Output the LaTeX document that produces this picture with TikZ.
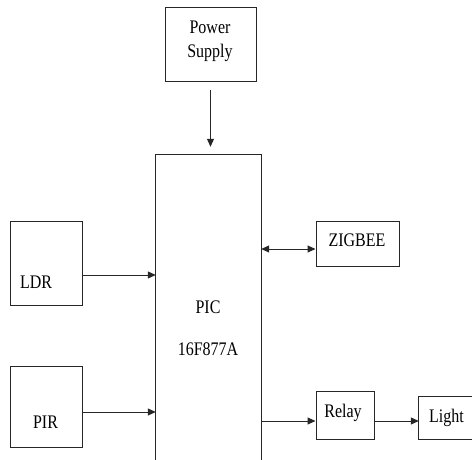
\documentclass[tikz,border=0pt]{standalone}
\usepackage{fontspec}
\setmainfont{Liberation Serif}
\usepackage{graphicx}
\usetikzlibrary{arrows.meta,calc}
\newcommand\vs[1]{\scalebox{1}[1.2]{#1}}
\begin{document}
\begin{tikzpicture}[x=1pt,y=-1pt,
  blk/.style={draw=black!85, line width=1pt, inner sep=0pt},
  open/.style={inner sep=0pt},
  side/.style={draw=black!85, line width=1pt},
  txt/.style={inner sep=0pt, anchor=base, font=\fontsize{16}{16}\selectfont},
  arr/.style={draw=black!85, line width=1pt, -{Triangle[length=8pt,width=7pt]}},
  darr/.style={draw=black!85, line width=1pt, {Triangle[length=8pt,width=7pt]}-{Triangle[length=8pt,width=7pt]}}]
\useasboundingbox (0,0) rectangle (472,460);
% boxes
\node[blk, minimum width=91pt, minimum height=74pt] (power) at (210.5,45) {};
\node[open, minimum width=105pt, minimum height=305pt] (pic) at (208.5,307.5) {};
\draw[side] (pic.south west) -- (pic.north west) -- (pic.north east) -- (pic.south east);
\node[blk, minimum width=72pt, minimum height=84pt] (ldr) at (46,263) {};
\node[blk, minimum width=72pt, minimum height=81pt] (pir) at (46,406.5) {};
\node[blk, minimum width=83pt, minimum height=45pt] (zig) at (357.5,243.5) {};
\node[blk, minimum width=58pt, minimum height=48pt] (relay) at (345,415) {};
\node[open, minimum width=55pt, minimum height=42pt] (light) at (446.5,418) {};
\draw[side] (light.north east) -- (light.north west) -- (light.south west) -- (light.south east);
% texts
\node[txt] (tpow) at (210,34) {\vs{Power}};
\node[txt] (tsup) at (210,58) {\vs{Supply}};
\node[txt] (tpic) at (208,313) {\vs{PIC}};
\node[txt] (tnum) at (208,355) {\vs{16F877A}};
\node[txt] (tldr) at (36,288) {\vs{LDR}};
\node[txt] (tpir) at (45.5,428) {\vs{PIR}};
\node[txt] (tzig) at (357,246) {\vs{ZIGBEE}};
\node[txt] (trel) at (343,417) {\vs{Relay}};
\node[txt] (tlig) at (446.5,422) {\vs{Light}};
% connectors
\draw[arr, shorten <=8pt, shorten >=8pt] (power.south) -- (power.south |- pic.north);
\draw[arr] ([yshift=-12pt]ldr.east) -- ([yshift=-12pt]ldr.east -| pic.west);
\draw[arr] ([yshift=-5.5pt]pir.east) -- ([yshift=-5.5pt]pir.east -| pic.west);
\draw[darr] ([yshift=-5.5pt]zig.west -| pic.east) -- ([yshift=-5.5pt]zig.west);
\draw[arr] ([yshift=-6pt]relay.west -| pic.east) -- ([yshift=-6pt]relay.west);
\draw[arr] ([yshift=-6pt]relay.east) -- ([yshift=-6pt]relay.east -| light.west);
\end{tikzpicture}
\end{document}
